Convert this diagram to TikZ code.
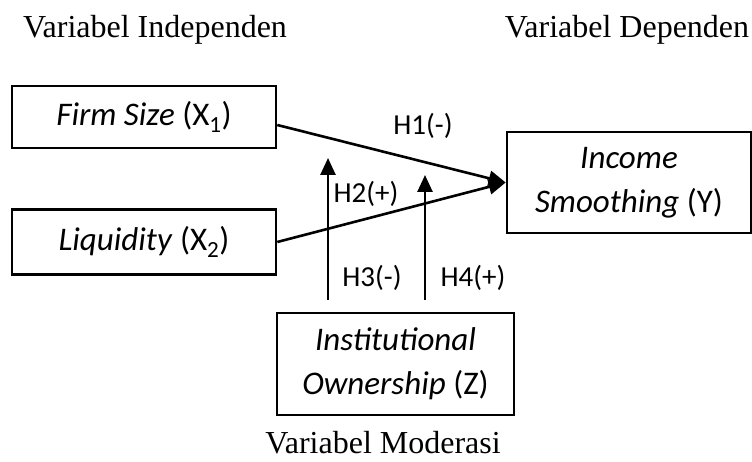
\documentclass[tikz,border=0pt]{standalone}
\usepackage{fontspec}
\setmainfont{Liberation Serif}
\newfontfamily\boxfont{Carlito}
\usetikzlibrary{arrows.meta,positioning,calc}

\begin{document}
\begin{tikzpicture}[x=1pt,y=1pt,>={Triangle[length=17pt,width=15pt]},
  box/.style={draw,line width=2.6pt,inner sep=0pt,align=center,
    font=\boxfont\fontsize{33}{44}\selectfont},
  hyp/.style={font=\boxfont\fontsize{29}{34}\selectfont},
  head/.style={anchor=base,inner sep=0pt,font=\fontsize{32}{38}\selectfont}]
\useasboundingbox (0,0) rectangle (752,462);

\node[head] (indep) at (155,424) {Variabel Independen};
\node[head] (dep) at (627,424) {Variabel Dependen};

\node[box,minimum width=264pt,minimum height=62pt] (fsize) at (144,345) {\textit{Firm Size} (X\textsubscript{1})};
\node[box,minimum width=264pt,minimum height=65pt] (liq) at (144,220) {\textit{Liquidity} (X\textsubscript{2})};
\node[box,minimum width=244pt,minimum height=101pt] (incs) at (629,279.5) {\textit{Income}\\\textit{Smoothing} (Y)};
\node[box,minimum width=237pt,minimum height=102pt] (inst) at (395.5,98) {\textit{Institutional}\\\textit{Ownership} (Z)};

\node[head] (moder) at (383,8) {Variabel Moderasi};

\coordinate (m1) at (328,304);
\coordinate (m2) at (425,287);

\draw[->,line width=2.6pt] ([yshift=-8pt]fsize.east) -- (incs.west);
\draw[->,line width=2.6pt] (liq.east) -- (incs.west);
\draw[->,line width=2.6pt] ([xshift=-67.5pt,yshift=12pt]inst.north) -- (m1);
\draw[->,line width=2.6pt] ([xshift=29.5pt,yshift=12pt]inst.north) -- (m2);

\node[hyp] (h1) at (423,336) {H1(-)};
\node[hyp] (h2) at (366,268) {H2(+)};
\node[hyp] (h3) at (372,184) {H3(-)};
\node[hyp] (h4) at (473,184) {H4(+)};
\end{tikzpicture}
\end{document}
